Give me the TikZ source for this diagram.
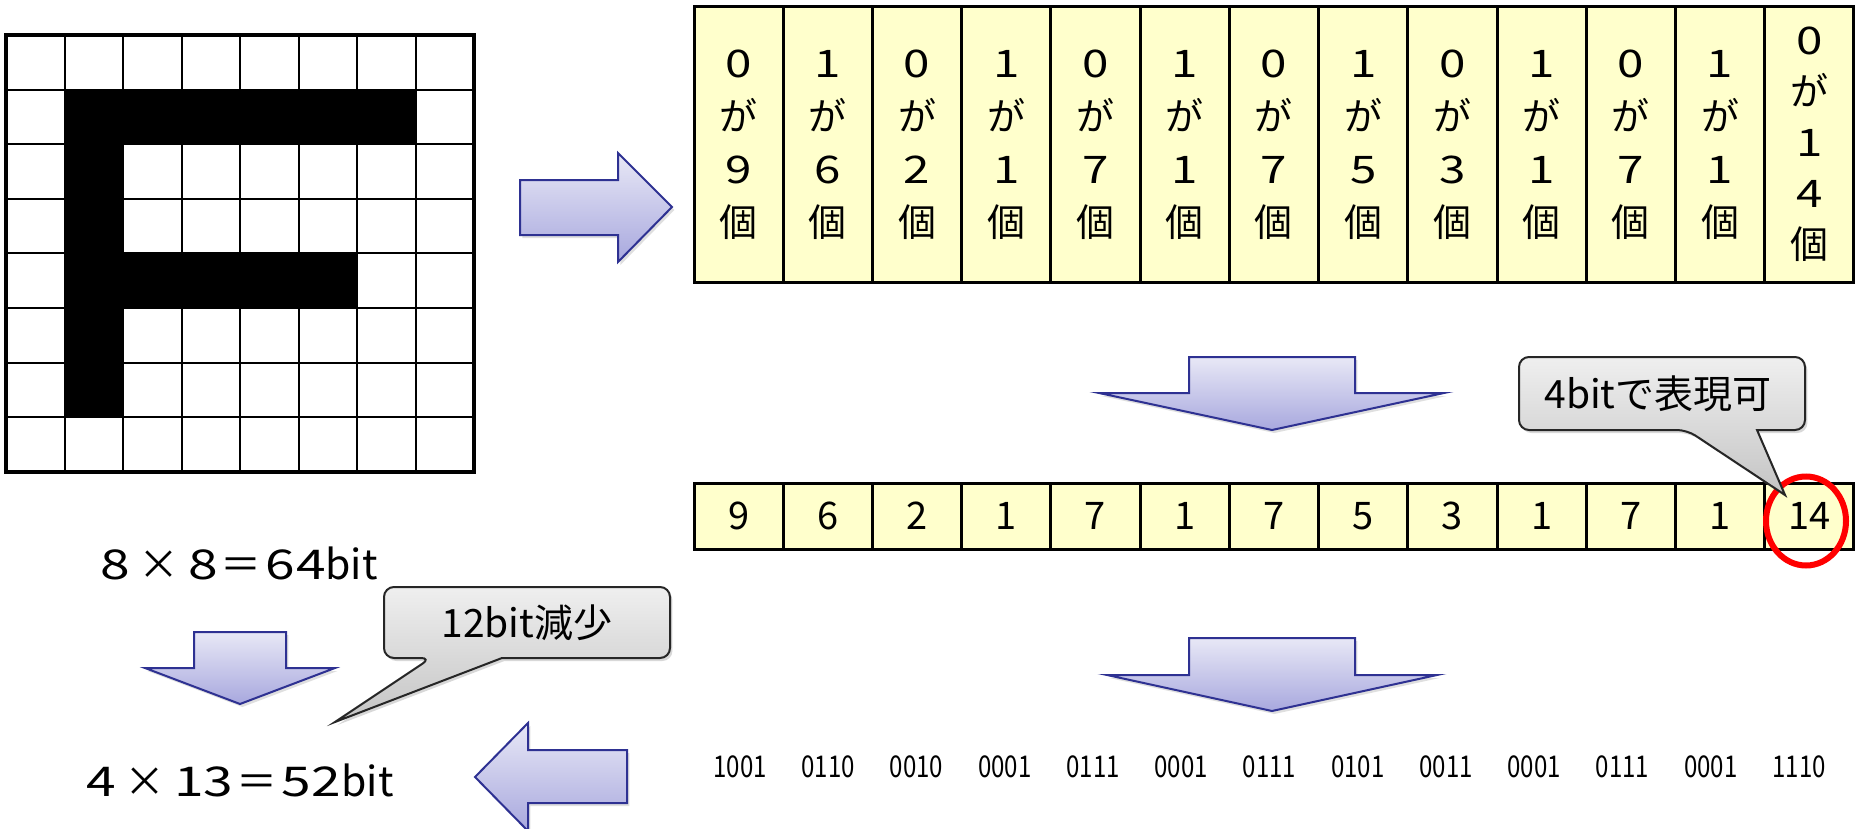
\documentclass[tikz,border=0pt]{standalone}
\usepackage{graphicx}
\usepackage{fontspec}
\setmainfont{Noto Sans CJK JP}
\usetikzlibrary{shadows,shapes.geometric}
\definecolor{cellyellow}{HTML}{FFFFCC}
\definecolor{arrtop}{HTML}{E8E8F6}
\definecolor{arrbot}{HTML}{A8A8DE}
\definecolor{arredge}{HTML}{2E3192}
\definecolor{calltop}{HTML}{EFEFEF}
\definecolor{callbot}{HTML}{C4C4C4}
\newcommand\widedig[1]{\scalebox{1.3}[1]{#1}}
\newcommand\celldig[1]{\scalebox{1.25}[1]{#1}}
\tikzset{
  topcell/.style={draw, line width=1.5pt, fill=cellyellow, minimum width=44.6pt, minimum height=137.5pt, inner sep=0pt, align=center, font=\fontsize{19}{26.5}\selectfont},
  midcell/.style={draw, line width=1.5pt, fill=cellyellow, minimum width=44.6pt, minimum height=33pt, inner sep=0pt, font=\fontsize{19}{22}\selectfont},
  bigarrow/.style={draw=arredge, line width=1pt, top color=arrtop, bottom color=arrbot, drop shadow={opacity=0.25, shadow xshift=1.2pt, shadow yshift=-1.5pt}},
  calloutbox/.style={draw=black!85, line width=1pt, top color=calltop, bottom color=callbot, drop shadow={opacity=0.3, shadow xshift=1.2pt, shadow yshift=-1.5pt}},
  bigtext/.style={font=\fontsize{20.5}{24}\selectfont, inner sep=0pt},
  calltext/.style={font=\fontsize{19.5}{22}\selectfont, inner sep=0pt},
  bintext/.style={font=\fontsize{15}{18}\selectfont, inner sep=0pt}
}
\begin{document}
\begin{tikzpicture}[x=0.5pt,y=-0.5pt]
\useasboundingbox[fill=white] (0,0) rectangle (1858,829);

% ---- 8x8 grid with the letter F ----
\fill[black] (64.5,89.6) rectangle (123,417);
\fill[black] (64.5,89.6) rectangle (415.5,144.2);
\fill[black] (64.5,253.4) rectangle (357,308);
\foreach \k in {1,...,7}{
  \draw[line width=1pt] (6+58.5*\k,35) -- (6+58.5*\k,472);
  \draw[line width=1pt] (6,35+54.6*\k) -- (474,35+54.6*\k);
}
\draw[line width=2pt] (6,35) rectangle (474,472);

\node[bigtext] (lbl64) at (239,563) {\widedig{8}\hspace{0.2em}×\hspace{0.22em}\widedig{8}\hspace{0.08em}＝\hspace{0.08em}\widedig{6}\hspace{0.03em}\widedig{4}bit};
\node[bigtext] (lbl52) at (240,780) {\widedig{4}\hspace{0.2em}×\hspace{0.22em}\widedig{1}\widedig{3}\hspace{0.08em}＝\hspace{0.08em}\widedig{5}\hspace{0.03em}\widedig{2}bit};

% ---- arrows ----
\path[bigarrow] (520,180) -- (618,180) -- (618,153) -- (672,207) -- (618,262) -- (618,235) -- (520,235) -- cycle;
\path[bigarrow] (194,632) -- (286,632) -- (286,668) -- (335,668) -- (240,704) -- (145,668) -- (194,668) -- cycle;
\path[bigarrow] (627,750) -- (528,750) -- (528,723) -- (475,777) -- (528,831) -- (528,803) -- (627,803) -- cycle;
\path[bigarrow] (1189,357) -- (1355,357) -- (1355,393) -- (1444,393) -- (1272,430) -- (1099,393) -- (1189,393) -- cycle;
\path[bigarrow] (1189,638) -- (1355,638) -- (1355,675) -- (1437,675) -- (1272,711) -- (1107,675) -- (1189,675) -- cycle;

% ---- top table ----
\foreach \b/\n [count=\i from 0] in {0/9,1/6,0/2,1/1,0/7,1/1,0/7,1/5,0/3,1/1,0/7,1/1}{
  \node[topcell] (t\i) at (738.6+89.23*\i,144.5) {\celldig{\b}\\が\\\celldig{\n}\\個};
}
\node[topcell, font=\fontsize{19}{25.5}\selectfont] (t12) at (738.6+89.23*12,144.5) {\celldig{0}\\が\\\celldig{1}\\\celldig{4}\\個};

% ---- middle table ----
\foreach \n [count=\i from 0] in {9,6,2,1,7,1,7,5,3,1,7,1,14}{
  \node[midcell] (m\i) at (738.6+89.23*\i,516) {\n};
}
\node[draw=red, ellipse, line width=3pt, minimum width=40pt, minimum height=44.5pt, inner sep=0pt] (ring) at (1806,521) {};

% ---- binary codes ----
\foreach \c [count=\i from 0] in {1001,0110,0010,0001,0111,0001,0111,0101,0011,0001,0111,0001,1110}{
  \node[bintext] (b\i) at (740+88.25*\i,767) {\scalebox{0.8}[1]{\c}};
}

% ---- callouts ----
\path[calloutbox] (1687,430) -- (1785,495) -- (1757,430) [rounded corners=5pt] -- (1805,430) -- (1805,357) -- (1519,357) -- (1519,430) -- cycle;
\node[calltext] (c4bit) at (1658,394) {4bitで表現可};

\path[calloutbox] (431,658) -- (335,722) -- (502,658) [rounded corners=5pt] -- (670,658) -- (670,587) -- (384,587) -- (384,658) -- cycle;
\node[calltext] (c12bit) at (527,623) {12bit減少};
\end{tikzpicture}
\end{document}
